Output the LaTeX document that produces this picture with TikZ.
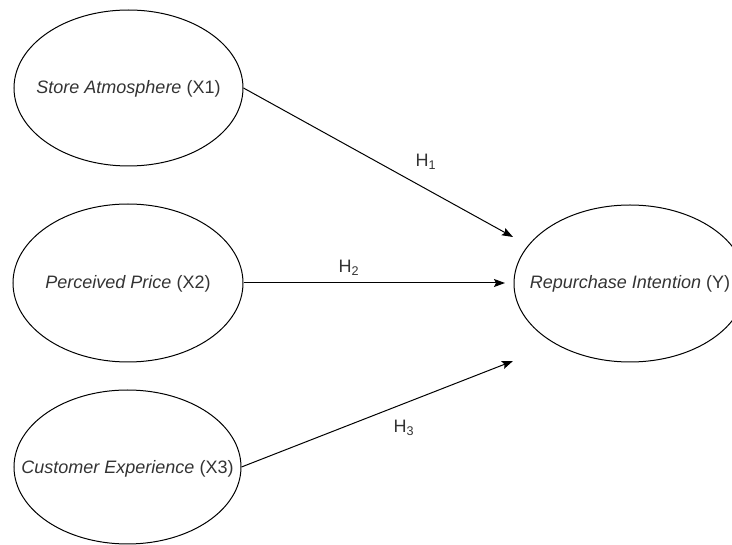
\documentclass[tikz,border=0pt]{standalone}
\usepackage{fontspec}
\setmainfont{Liberation Sans}
\usetikzlibrary{shapes.geometric,arrows.meta}
\definecolor{txt}{HTML}{333333}
\begin{document}
\begin{tikzpicture}[x=1pt,y=-1pt,
  var/.style={draw=black,line width=1pt,ellipse,inner sep=0pt,minimum width=229pt,minimum height=156pt},
  vlab/.style={text=txt,font=\fontsize{18}{21}\selectfont,inner sep=0pt},
  path/.style={draw=black,line width=1pt,-{Stealth[length=11pt,width=8pt,inset=2pt]}},
  hlab/.style={text=txt,font=\fontsize{18}{21}\selectfont,inner sep=0pt}]
\useasboundingbox (0,0) rectangle (732,545);
\clip (0,0) rectangle (732,545);
\node[var,label={[vlab,yshift=-1pt]center:\textit{Store Atmosphere} (X1)}] (x1) at (128.5,88) {};
\node[var,minimum width=230pt,minimum height=158pt,label={[vlab,yshift=-1pt]center:\textit{Perceived Price} (X2)}] (x2) at (128,283) {};
\node[var,minimum width=227pt,minimum height=154pt,label={[vlab,yshift=-2pt]center:\textit{Customer Experience} (X3)}] (x3) at (127.5,467) {};
\node[var,minimum width=232pt,minimum height=157pt,label={[vlab]center:\textit{Repurchase Intention} (Y)}] (y) at (630,283.5) {};
\coordinate (e1) at (513,237);
\coordinate (e2) at (505,283);
\coordinate (e3) at (513,361);
\draw[path] (x1.east) -- (e1);
\draw[path] (x2.east) -- (e2);
\draw[path] (x3.east) -- (e3);
\node[hlab] (h1) at (426,162) {H\textsubscript{1}};
\node[hlab] (h2) at (349,268) {H\textsubscript{2}};
\node[hlab] (h3) at (404,428) {H\textsubscript{3}};
\end{tikzpicture}
\end{document}
